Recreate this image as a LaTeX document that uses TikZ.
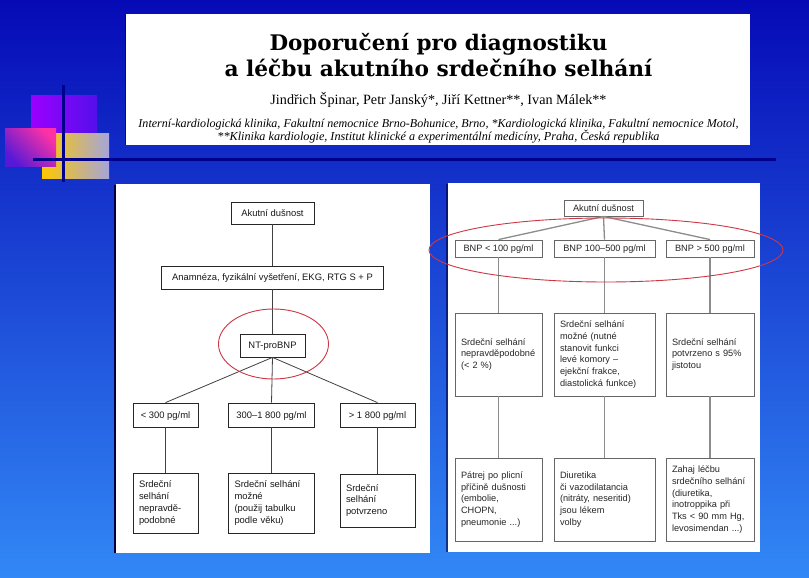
\documentclass[tikz,border=0pt]{standalone}
\usepackage{fontspec}
\usepackage{graphicx}
\setmainfont{Liberation Sans}
\newfontfamily\titlefont{DejaVu Serif}
\newfontfamily\authfont{Liberation Serif}
\definecolor{bgtop}{RGB}{6,10,182}
\definecolor{bgbot}{RGB}{50,136,246}
\definecolor{navy}{RGB}{0,0,140}
\definecolor{ellred}{RGB}{205,55,70}
\begin{document}
\begin{tikzpicture}[x=1pt,y=-1pt,
  lbox/.style={draw=black!85, line width=0.8pt, fill=white, text=black!90,
    font=\fontsize{9.4}{11.7}\selectfont, inner sep=0pt, align=center},
  lline/.style={draw=black!75, line width=0.8pt},
  rbox/.style={draw=black!60, line width=0.9pt, fill=white, text=black!85,
    font=\fontsize{9.2}{11.7}\selectfont, inner sep=0pt, align=center},
  rline/.style={draw=black!45, line width=1.3pt},
  one/.style={text height=7pt, text depth=0.6pt},
  tbox/.style={align=left, inner xsep=6pt, inner ysep=0pt},
  redell/.style={draw=ellred, line width=0.9pt},
  panel/.style={fill=white, draw=none},
  shadow/.style={fill=black!55!navy}]
\useasboundingbox (0,0) rectangle (809,578);
% background
\shade[top color=bgtop, bottom color=bgbot] (0,0) rectangle (809,578);
% decoration
\shade[left color={rgb,255:red,155;green,0;blue,255}, right color={rgb,255:red,85;green,15;blue,235}] (31,96) rectangle (97,150);
\shade[left color={rgb,255:red,255;green,200;blue,0}, middle color={rgb,255:red,255;green,205;blue,20}, right color={rgb,255:red,165;green,165;blue,220}] (42,133) rectangle (109,178);
\shade[top color={rgb,255:red,255;green,50;blue,165}, bottom color={rgb,255:red,85;green,25;blue,215}, shading angle=-45] (5,128) rectangle (56,166);
\draw[navy, line width=3pt] (63,85) -- (63,182);
\draw[navy, line width=3pt] (33,159) -- (776,159);
% title box
\fill[shadow, opacity=0.6] (124.5,15) rectangle (127,145);
\fill[white] (126,14) rectangle (750,145);
\node[anchor=base, inner sep=0pt] (t1) at (438.5,51) {\resizebox{338pt}{!}{\titlefont\bfseries Doporučení pro diagnostiku}};
\node[anchor=base, inner sep=0pt] (t2) at (438.5,77) {\resizebox{428pt}{!}{\titlefont\bfseries a léčbu akutního srdečního selhání}};
\node[anchor=base, inner sep=0pt] (t3) at (438.5,104) {\resizebox{336pt}{!}{\authfont Jindřich Špinar, Petr Janský*, Jiří Kettner**, Ivan Málek**}};
\node[anchor=base, inner sep=0pt] (t4) at (438.5,128) {\resizebox{600pt}{!}{\authfont\itshape Interní-kardiologická klinika, Fakultní nemocnice Brno-Bohunice, Brno, *Kardiologická klinika, Fakultní nemocnice Motol,}};
\node[anchor=base, inner sep=0pt] (t5) at (438.5,140) {\resizebox{442pt}{!}{\authfont\itshape **Klinika kardiologie, Institut klinické a experimentální medicíny, Praha, Česká republika}};
% panels
\fill[shadow] (114,185) rectangle (117,553);
\fill[panel] (116,184) rectangle (430,553);
\fill[shadow, opacity=0.6] (446,184) rectangle (449,552);
\fill[panel] (448,183) rectangle (760,552);
% ---------- left diagram
\node[lbox, one, minimum width=83pt, minimum height=22pt] (L0) at (272.5,213) {Akutní dušnost};
\node[lbox, one, minimum width=222pt, minimum height=23pt] (L1) at (272.5,277.5) {Anamnéza, fyzikální vyšetření, EKG, RTG S + P};
\node[lbox, one, minimum width=65pt, minimum height=23pt] (L2) at (272.5,345.5) {NT-proBNP};
\node[lbox, one, minimum width=65pt, minimum height=24pt] (L3a) at (165.5,415) {< 300 pg/ml};
\node[lbox, one, minimum width=86pt, minimum height=24pt] (L3b) at (271.5,415) {300–1~800 pg/ml};
\node[lbox, one, minimum width=75pt, minimum height=24pt] (L3c) at (377.5,415) {> 1~800 pg/ml};
\node[lbox, tbox, text width=53pt, minimum height=60pt] (L4a) at (165.5,503) {Srdeční\\selhání\\nepravdě-\\podobné};
\node[lbox, tbox, text width=74pt, minimum height=60pt] (L4b) at (271.5,503) {Srdeční selhání\\možné\\(použij tabulku\\podle věku)};
\node[lbox, tbox, text width=63pt, minimum height=53pt] (L4c) at (377.5,500.5) {Srdeční\\selhání\\potvrzeno};
\draw[lline] (L0.south) -- (L1.north);
\draw[lline] (L1.south) -- (L2.north);
\draw[lline] (L2.south) -- (L3a.north);
\draw[lline] (L2.south) -- (L3b.north);
\draw[lline] (L2.south) -- (L3c.north);
\draw[lline] (L3a.south) -- (L4a.north);
\draw[lline] (L3b.south) -- (L4b.north);
\draw[lline] (L3c.south) -- (L4c.north);
\draw[redell] (273.5,344) ellipse [x radius=55pt, y radius=35pt];
% ---------- right diagram
\node[rbox, one, minimum width=79pt, minimum height=16pt] (R0) at (603.5,208) {Akutní dušnost};
\node[rbox, one, minimum width=87pt, minimum height=17pt] (R1a) at (498.5,248.5) {BNP < 100 pg/ml};
\node[rbox, one, minimum width=101pt, minimum height=17pt] (R1b) at (604.5,248.5) {BNP 100–500 pg/ml};
\node[rbox, one, minimum width=88pt, minimum height=17pt] (R1c) at (710,248.5) {BNP > 500 pg/ml};
\node[rbox, tbox, text width=75pt, minimum height=83pt] (R2a) at (498.5,354.5) {Srdeční selhání\\nepravděpodobné\\(< 2 \%)};
\node[rbox, tbox, text width=89pt, minimum height=83pt] (R2b) at (604.5,354.5) {Srdeční selhání\\možné (nutné\\stanovit funkci\\levé komory –\\ejekční frakce,\\diastolická funkce)};
\node[rbox, tbox, text width=76pt, minimum height=83pt] (R2c) at (710,354.5) {Srdeční selhání\\potvrzeno s 95\%\\jistotou};
\node[rbox, tbox, text width=75pt, minimum height=83pt] (R3a) at (498.5,499.5) {Pátrej po plicní\\příčině dušnosti\\(embolie,\\CHOPN,\\pneumonie ...)};
\node[rbox, tbox, text width=89pt, minimum height=83pt] (R3b) at (604.5,499.5) {Diuretika\\či vazodilatancia\\(nitráty, neseritid)\\jsou lékem\\volby};
\node[rbox, tbox, text width=76pt, minimum height=83pt] (R3c) at (710,499.5) {Zahaj léčbu\\srdečního selhání\\(diuretika,\\inotroppika při\\Tks < 90 mm Hg,\\levosimendan ...)};
\draw[rline] (R0.south) -- (R1a.north);
\draw[rline] (R0.south) -- (R1b.north);
\draw[rline] (R0.south) -- (R1c.north);
\draw[rline] (R1a.south) -- (R2a.north);
\draw[rline] (R1b.south) -- (R2b.north);
\draw[rline] (R1c.south) -- (R2c.north);
\draw[rline] (R2a.south) -- (R3a.north);
\draw[rline] (R2b.south) -- (R3b.north);
\draw[rline] (R2c.south) -- (R3c.north);
\draw[redell] (606,250) ellipse [x radius=177pt, y radius=32pt];
\end{tikzpicture}
\end{document}
